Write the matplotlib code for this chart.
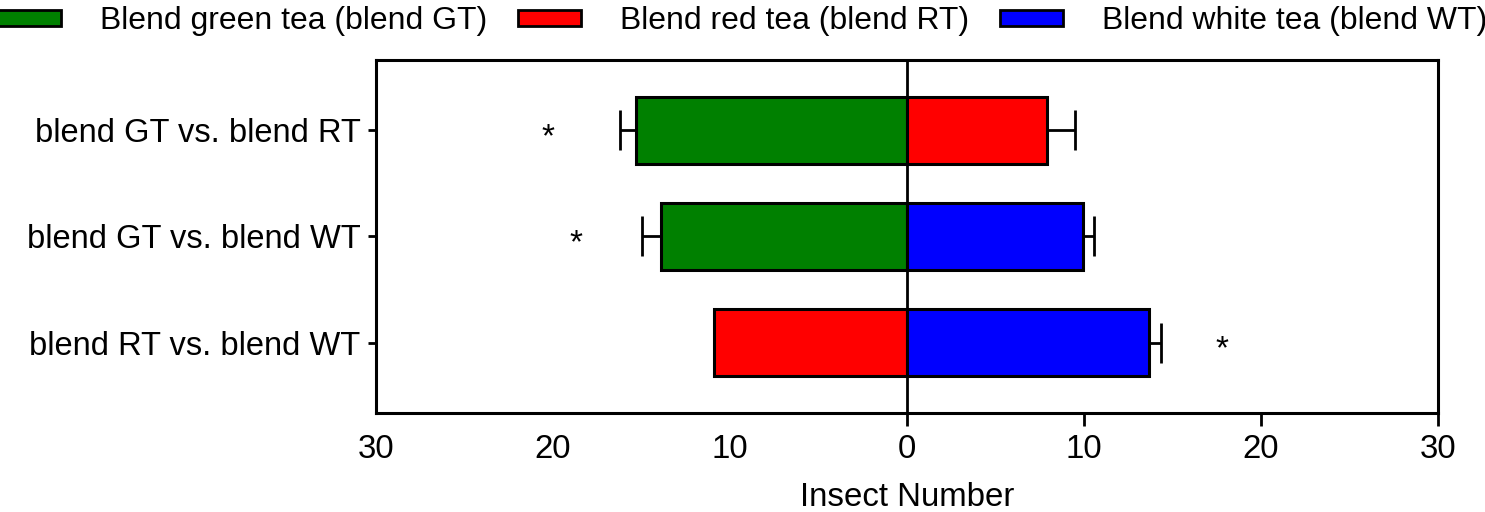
import matplotlib.pyplot as plt
import matplotlib.patches as mpatches
from matplotlib import font_manager
import numpy as np

# Data
comparisons = ['blend GT vs. blend RT', 'blend GT vs. blend WT', 'blend RT vs. blend WT']
left_values = [15.3, 13.9, 10.9]
left_errors = [0.9, 1.1, 0.0]
left_colors = ['#008000', '#008000', '#ff0000']
right_values = [7.9, 9.95, 13.65]
right_errors = [1.6, 0.62, 0.72]
right_colors = ['#ff0000', '#0000ff', '#0000ff']
star_x = [-20.3, -18.7, 17.8]

legend_labels = ['Blend green tea (blend GT)', 'Blend red tea (blend RT)', 'Blend white tea (blend WT)']
legend_colors = ['#008000', '#ff0000', '#0000ff']
xticks = [-30, -20, -10, 0, 10, 20, 30]

# narrow font for legend / x axis if we have it
names = {f.name for f in font_manager.fontManager.ttflist}
if 'Liberation Sans Narrow' in names:
    narrow, shrink = 'Liberation Sans Narrow', 1.0
else:
    narrow, shrink = 'Liberation Sans', 0.82

plt.rcParams['font.family'] = ['Liberation Sans', 'DejaVu Sans']

fig = plt.figure(figsize=(14.85, 5.12), dpi=100)
ax = fig.add_axes([376 / 1485, 1 - 413 / 512, 1062 / 1485, 353 / 512])

y = np.arange(len(comparisons))
bar_h = 0.63

ax.barh(y, -np.array(left_values), height=bar_h, color=left_colors,
        edgecolor='black', linewidth=2.2, zorder=3)
ax.barh(y, right_values, height=bar_h, color=right_colors,
        edgecolor='black', linewidth=2.2, zorder=3)

zeros = np.zeros(len(y))
ax.errorbar(-np.array(left_values), y, xerr=[left_errors, zeros], fmt='none',
            ecolor='black', elinewidth=2, capsize=14.4, capthick=2, zorder=2)
ax.errorbar(right_values, y, xerr=[zeros, right_errors], fmt='none',
            ecolor='black', elinewidth=2, capsize=14.4, capthick=2, zorder=2)

for xs, ys in zip(star_x, y):
    ax.text(xs, ys + 0.07, '*', ha='center', va='center', fontsize=24)

ax.axvline(0, color='black', linewidth=2, zorder=4)

ax.set_xlim(-30, 30)
ax.set_ylim(len(y) - 1 + 0.665, -0.665)

ax.set_yticks(y)
ax.set_yticklabels(comparisons, fontsize=23.5)
ax.tick_params(axis='y', length=6, width=2, pad=5)

xfs = 29 * shrink
ax.set_xticks(xticks)
ax.set_xticklabels([str(abs(t)) for t in xticks], fontsize=xfs, family=narrow)
ax.tick_params(axis='x', length=9, width=2, pad=6)
for t, tick in zip(xticks, ax.xaxis.get_major_ticks()):
    if t < 0:
        tick.tick1line.set_visible(False)

ax.set_xlabel('Insect Number', fontsize=xfs, family=narrow, labelpad=12)

for sp in ax.spines.values():
    sp.set_linewidth(2.2)

fs = 28 * shrink
em = fs * 100 / 72
handles = [mpatches.Patch(facecolor=c, edgecolor='black', linewidth=2) for c in legend_colors]
fig.legend(handles, legend_labels, loc='upper center', bbox_to_anchor=(0.5, 0.988),
           ncol=3, frameon=False, prop={'family': narrow, 'size': fs},
           handlelength=63 / em, handleheight=12 / em, handletextpad=39 / em,
           columnspacing=31 / em, borderpad=0, borderaxespad=0)

fig.savefig('out.png', dpi=100)
